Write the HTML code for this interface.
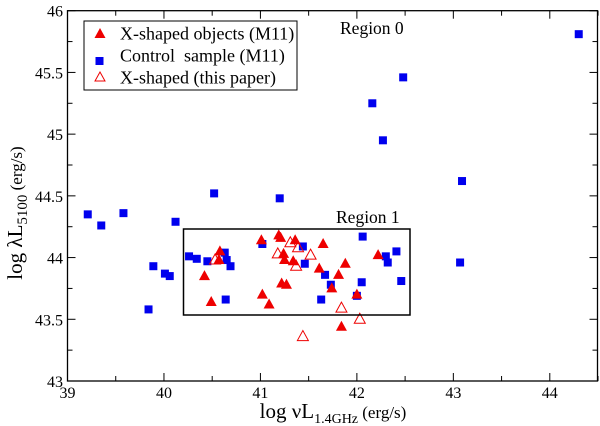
<!DOCTYPE html>
<html><head><meta charset="utf-8"><style>
html,body{margin:0;padding:0;background:#fff;}
svg{display:block;font-family:"Liberation Serif",serif;}
</style></head><body>
<svg id="chart" width="600" height="426" viewBox="0 0 600 426">
<g id="axes"></g>
<g id="marks"></g>
<rect x="183.5" y="229" width="226.5" height="86" fill="none" stroke="#000" stroke-width="1.5"/>
<text x="340" y="34" font-size="17.5">Region 0</text>
<text x="336" y="223" font-size="17.5">Region 1</text>
<g>
<rect x="84" y="21" width="213" height="69" fill="#fff" stroke="#000" stroke-width="1"/>
<polygon points="100,28 94.5,38 105.5,38" fill="#ee0000"/>
<text x="120" y="39.5" font-size="18">X-shaped objects (M11)</text>
<rect x="95.5" y="57" width="8" height="8" fill="#0000ee"/>
<text x="120" y="61.5" font-size="18">Control&#160; sample (M11)</text>
<polygon points="100,72 95,81 105,81" fill="none" stroke="#ee0000" stroke-width="1"/>
<text x="120" y="83.5" font-size="18">X-shaped (this paper)</text>
</g>
<text x="333" y="418" font-size="21" text-anchor="middle">log νL<tspan font-size="14" dy="5">1.4GHz</tspan><tspan font-size="17" dy="-5"> (erg/s)</tspan></text>
<text transform="translate(22,213) rotate(-90)" font-size="21" text-anchor="middle">log λL<tspan font-size="15" dy="5">5100</tspan><tspan font-size="17" dy="-5"> (erg/s)</tspan></text>
</svg>
<script>
const xTicks=[39,40,41,42,43,44];
const yTicks=[43,43.5,44,44.5,45,45.5,46];
const ctrlX=[39.21,39.35,39.58,40.12,39.89,40.01,40.06,39.84,40.52,41.20,42.16,42.48,42.27,43.09,44.30,43.07,42.06,40.26,40.34,40.45,40.63,40.65,40.69,40.64,41.02,41.44,41.46,41.67,41.73,41.63,42.05,42.00,42.30,42.32,42.41,42.46];
const ctrlY=[44.35,44.26,44.36,44.29,43.93,43.87,43.85,43.58,44.52,44.48,45.25,45.46,44.95,44.62,45.81,43.96,44.17,44.01,43.99,43.97,44.04,43.98,43.93,43.66,44.11,44.09,43.95,43.86,43.78,43.66,43.80,43.69,44.01,43.96,44.05,43.81];
const xsX=[41.01,41.19,41.21,41.36,41.65,40.58,40.57,41.24,41.25,41.34,42.22,41.88,41.61,41.81,40.42,41.22,41.27,41.74,41.02,42.00,40.49,41.09,41.84];
const xsY=[44.14,44.18,44.16,44.14,44.11,44.05,43.98,44.03,43.98,43.97,44.02,43.95,43.91,43.86,43.85,43.79,43.78,43.75,43.70,43.70,43.64,43.62,43.44];
const tpX=[40.53,41.18,41.31,41.39,41.37,41.52,41.84,42.03,41.44];
const tpY=[43.98,44.03,44.12,44.08,43.93,44.02,43.59,43.50,43.36];
const L=67.5,R=597.5,T=10.7,B=381;
const sx=v=>67.5+(v-39)*96.46;
const sy=v=>381-(v-43)*123.43;
const NS='http://www.w3.org/2000/svg';
function mk(t,a,p){const e=document.createElementNS(NS,t);for(const k in a)e.setAttribute(k,a[k]);p.appendChild(e);return e;}
const ax=document.getElementById('axes'),mg=document.getElementById('marks');
const frame=mk('rect',{x:L,y:T,width:R-L,height:B-T,fill:'none',stroke:'#000','stroke-width':1.3},ax);


for(let v=39;v<=44.51;v+=0.5){const x=sx(v),len=(Math.abs(v-Math.round(v))<0.01)?8:5;
 mk('line',{x1:x,x2:x,y1:B,y2:B-len,stroke:'#000'},ax);mk('line',{x1:x,x2:x,y1:T,y2:T+len,stroke:'#000'},ax);}
for(let v=43;v<=46.01;v+=0.25){const y=sy(v),len=(Math.abs(v*2-Math.round(v*2))<0.01)?8:5;
 mk('line',{x1:L,x2:L+len,y1:y,y2:y,stroke:'#000'},ax);mk('line',{x1:R,x2:R-len,y1:y,y2:y,stroke:'#000'},ax);}
xTicks.forEach(v=>{const t=mk('text',{x:sx(v),y:398,'font-size':16,'text-anchor':'middle'},ax);t.textContent=v;
 
 });
yTicks.forEach(v=>{const t=mk('text',{x:63,y:sy(v)+6,'font-size':16,'text-anchor':'end'},ax);t.textContent=v;
 
 });
ctrlX.forEach((v,i)=>{const r=mk('rect',{x:sx(v)-4,y:sy(ctrlY[i])-4,width:8,height:8,fill:'#0000ee'},mg);
 
 });
function tri(x,y){return (x)+','+(y-6)+' '+(x-5.5)+','+(y+4)+' '+(x+5.5)+','+(y+4);}
xsX.forEach((v,i)=>{const p=mk('polygon',{points:tri(sx(v),sy(xsY[i])),fill:'#ee0000'},mg);
 
 });
tpX.forEach((v,i)=>{const p=mk('polygon',{points:tri(sx(v),sy(tpY[i])),fill:'none',stroke:'#ee0000','stroke-width':1},mg);
 
 });
</script>
</body></html>
